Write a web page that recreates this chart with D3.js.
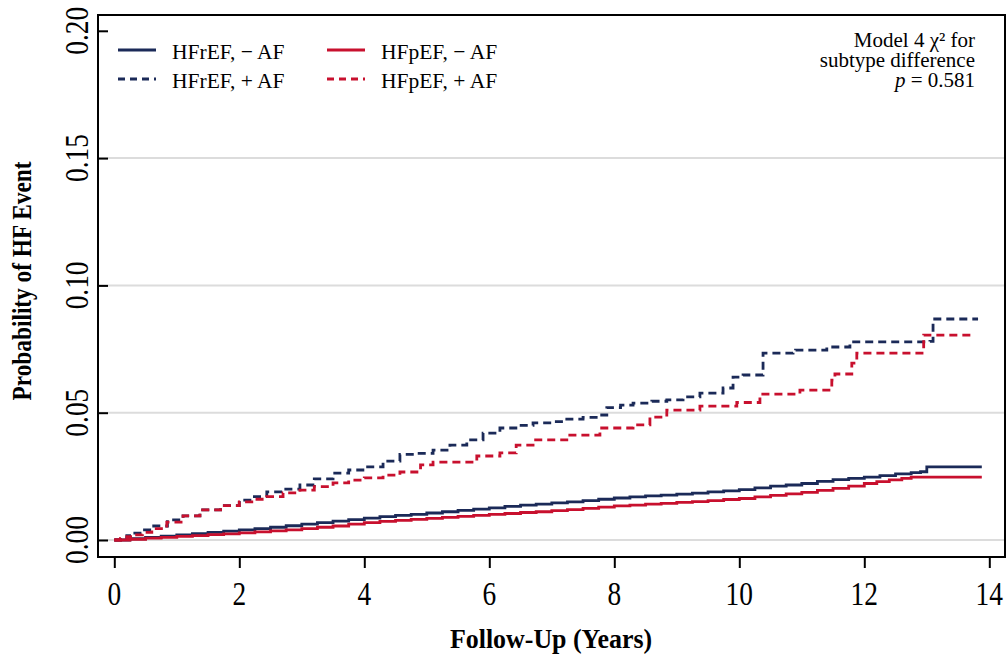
<!DOCTYPE html>
<html>
<head>
<meta charset="utf-8">
<script src="https://cdn.jsdelivr.net/npm/d3@7"></script>
<style>
  body { margin: 0; background: #fff; }
  svg text { font-family: "Liberation Serif", "Times New Roman", serif; fill: #000; }
</style>
</head>
<body>
<div id="chart"></div>
<script>
// Cumulative incidence curves (step functions), time in years
var rNoAfTime = [0, 0.25, 0.5, 0.75, 1, 1.25, 1.5, 1.75, 2, 2.25, 2.5, 2.75, 3, 3.25, 3.5, 3.75, 4, 4.25, 4.5, 4.75, 5, 5.25, 5.5, 5.75, 6, 6.25, 6.5, 6.75, 7, 7.25, 7.5, 7.75, 8, 8.25, 8.5, 8.75, 9, 9.25, 9.5, 9.75, 10, 10.25, 10.5, 10.75, 11, 11.25, 11.5, 11.75, 12, 12.25, 12.5, 12.75, 12.9, 13.0, 13.88]
var rNoAfProb = [0, 0.0005, 0.001, 0.0015, 0.002, 0.0025, 0.003, 0.0035, 0.004, 0.0045, 0.005, 0.0056, 0.0062, 0.0068, 0.0074, 0.008, 0.0086, 0.0092, 0.0097, 0.0101, 0.0106, 0.0111, 0.0116, 0.0121, 0.0126, 0.0132, 0.0137, 0.0141, 0.0146, 0.015, 0.0155, 0.016, 0.0165, 0.0169, 0.0173, 0.0176, 0.018, 0.0184, 0.0189, 0.0193, 0.0198, 0.0205, 0.0212, 0.0216, 0.0222, 0.023, 0.0237, 0.0242, 0.0247, 0.0253, 0.026, 0.0265, 0.0268, 0.0287, 0.0287]

var pNoAfTime = [0, 0.25, 0.5, 0.75, 1, 1.25, 1.5, 1.75, 2, 2.25, 2.5, 2.75, 3, 3.25, 3.5, 3.75, 4, 4.25, 4.5, 4.75, 5, 5.25, 5.5, 5.75, 6, 6.25, 6.5, 6.75, 7, 7.25, 7.5, 7.75, 8, 8.25, 8.5, 8.75, 9, 9.25, 9.5, 9.75, 10, 10.25, 10.5, 10.75, 11, 11.25, 11.5, 11.75, 12, 12.2, 12.4, 12.6, 12.75, 13.88]
var pNoAfProb = [0, 0.0003, 0.0007, 0.001, 0.0014, 0.0017, 0.0021, 0.0024, 0.0028, 0.0032, 0.0036, 0.004, 0.0045, 0.005, 0.0055, 0.0062, 0.0068, 0.0073, 0.0077, 0.0081, 0.0085, 0.0089, 0.0093, 0.0097, 0.0101, 0.0104, 0.0108, 0.0111, 0.0115, 0.0119, 0.0124, 0.0129, 0.0134, 0.0137, 0.0141, 0.0144, 0.0148, 0.0151, 0.0155, 0.0159, 0.0163, 0.0169, 0.0175, 0.0181, 0.0187, 0.0195, 0.0203, 0.0212, 0.0222, 0.0229, 0.0236, 0.0242, 0.0247, 0.0247]

var rAfTime = [0, 0.1, 0.2, 0.3, 0.45, 0.6, 0.85, 1.1, 1.37, 1.7, 2, 2.2, 2.44, 2.7, 2.97, 3.2, 3.5, 3.75, 4, 4.3, 4.57, 4.85, 5.1, 5.37, 5.64, 5.9, 6.17, 6.45, 6.7, 7.0, 7.24, 7.5, 7.77, 7.88, 8.1, 8.3, 8.6, 8.84, 9.1, 9.37, 9.74, 9.9, 10.06, 10.38, 10.86, 10.9, 11.4, 11.77, 13.05, 13.1, 13.82]
var rAfProb = [0, 0.0008, 0.0017, 0.0027, 0.004, 0.0055, 0.0079, 0.0095, 0.0118, 0.0135, 0.0157, 0.017, 0.0189, 0.02, 0.0216, 0.024, 0.0263, 0.0275, 0.0287, 0.031, 0.0336, 0.034, 0.0353, 0.0373, 0.0393, 0.042, 0.044, 0.045, 0.046, 0.0465, 0.0475, 0.0482, 0.0491, 0.052, 0.053, 0.0538, 0.0545, 0.055, 0.0562, 0.0577, 0.0597, 0.064, 0.0648, 0.0734, 0.0742, 0.0746, 0.0758, 0.0778, 0.078, 0.0868, 0.0868]

var pAfTime = [0, 0.1, 0.2, 0.3, 0.45, 0.6, 0.84, 1.1, 1.37, 1.7, 2, 2.2, 2.44, 2.7, 2.97, 3.2, 3.5, 3.75, 4, 4.3, 4.57, 4.9, 5.1, 5.8, 6.17, 6.43, 6.7, 7.24, 7.77, 8.3, 8.57, 8.84, 9.37, 9.96, 10.33, 10.97, 11.48, 11.53, 11.8, 11.88, 12.95, 13.77]
var pAfProb = [0, 0.0006, 0.0013, 0.002, 0.003, 0.0045, 0.007, 0.0095, 0.0118, 0.0135, 0.015, 0.016, 0.017, 0.0185, 0.0196, 0.021, 0.0224, 0.0235, 0.0244, 0.0255, 0.0267, 0.0295, 0.0306, 0.033, 0.0342, 0.0373, 0.0393, 0.0412, 0.044, 0.0452, 0.0483, 0.051, 0.0526, 0.054, 0.0573, 0.0589, 0.0628, 0.0652, 0.0695, 0.0734, 0.0805, 0.0805]

var xTicks = [0, 2, 4, 6, 8, 10, 12, 14]
var yTicks = [0, 0.05, 0.10, 0.15, 0.20]
var yGrid = [0, 0.05, 0.10, 0.15]

var navy = "#1b2a58"
var red = "#c8102e"

var series = [
  { name: "HFrEF, \u2212 AF", t: rNoAfTime, p: rNoAfProb, color: navy, dash: null },
  { name: "HFrEF, + AF", t: rAfTime, p: rAfProb, color: navy, dash: "8,5" },
  { name: "HFpEF, \u2212 AF", t: pNoAfTime, p: pNoAfProb, color: red, dash: null },
  { name: "HFpEF, + AF", t: pAfTime, p: pAfProb, color: red, dash: "8,5" }
]

var width = 1006
var height = 655
var box = { left: 98, top: 15, right: 1005, bottom: 557 }

var svg = d3.select("#chart")
  .append("svg")
  .attr("width", width)
  .attr("height", height)

var x = d3.scaleLinear().domain([0, 14]).range([114.3, 989.3])
var y = d3.scaleLinear().domain([0, 0.2]).range([540, 30.8])

// gridlines
svg.selectAll(".grid")
  .data(yGrid)
  .enter()
  .append("line")
  .attr("x1", box.left)
  .attr("x2", box.right)
  .attr("y1", function(d) { return y(d) })
  .attr("y2", function(d) { return y(d) })
  .attr("stroke", "#dcdcdc")
  .attr("stroke-width", 2)

// curves
var line = d3.line()
  .curve(d3.curveStepAfter)
  .x(function(d) { return x(d[0]) })
  .y(function(d) { return y(d[1]) })

series.forEach(function(s) {
  svg.append("path")
    .datum(d3.zip(s.t, s.p))
    .attr("d", line)
    .attr("fill", "none")
    .attr("stroke", s.color)
    .attr("stroke-width", 2.8)
    .attr("stroke-dasharray", s.dash)
})

// frame
svg.append("rect")
  .attr("x", box.left)
  .attr("y", box.top)
  .attr("width", box.right - box.left)
  .attr("height", box.bottom - box.top)
  .attr("fill", "none")
  .attr("stroke", "#000")
  .attr("stroke-width", 2)

// x axis: ticks point outward
var xAxis = svg.append("g")
  .attr("transform", "translate(0," + box.bottom + ")")
  .call(d3.axisBottom(x).tickValues(xTicks).tickSize(11).tickSizeOuter(0).tickFormat(d3.format("d")))
xAxis.select(".domain").remove()
xAxis.selectAll(".tick line").attr("stroke", "#000").attr("stroke-width", 2)
xAxis.selectAll(".tick text").remove()

svg.selectAll(".xlab")
  .data(xTicks)
  .enter()
  .append("text")
  .attr("transform", function(d) { return "translate(" + x(d) + ",605) scale(0.83,1)" })
  .attr("text-anchor", "middle")
  .style("font-size", "33px")
  .text(function(d) { return d })

// y axis: ticks point inward
var yAxis = svg.append("g")
  .attr("transform", "translate(" + box.left + ",0)")
  .call(d3.axisRight(y).tickValues(yTicks).tickSize(10).tickSizeOuter(0))
yAxis.select(".domain").remove()
yAxis.selectAll(".tick line").attr("stroke", "#000").attr("stroke-width", 2)
yAxis.selectAll(".tick text").remove()

svg.selectAll(".ylab")
  .data(yTicks)
  .enter()
  .append("text")
  .attr("transform", function(d) { return "translate(88," + y(d) + ") rotate(-90) scale(0.83,1)" })
  .attr("text-anchor", "middle")
  .style("font-size", "33px")
  .text(function(d) { return d3.format(".2f")(d) })

// axis titles
svg.append("text")
  .attr("transform", "translate(551,648) scale(0.96,1)")
  .attr("text-anchor", "middle")
  .style("font-size", "27px")
  .style("font-weight", "bold")
  .text("Follow-Up (Years)")

svg.append("text")
  .attr("transform", "translate(31,281) rotate(-90) scale(0.88,1)")
  .attr("text-anchor", "middle")
  .style("font-size", "26.5px")
  .style("font-weight", "bold")
  .text("Probability of HF Event")

// legend
var legendPos = [[118, 50], [118, 79], [327, 50], [327, 79]]
series.forEach(function(s, i) {
  var p = legendPos[i]
  svg.append("line")
    .attr("x1", p[0]).attr("x2", p[0] + 38)
    .attr("y1", p[1]).attr("y2", p[1])
    .attr("stroke", s.color)
    .attr("stroke-width", 2.8)
    .attr("stroke-dasharray", s.dash ? "7,5" : null)
  svg.append("text")
    .attr("x", p[0] + 54)
    .attr("y", p[1] + 9)
    .style("font-size", "21.5px")
    .text(s.name)
})

// model annotation
var noteLines = ["Model 4 \u03c7\u00b2 for", "subtype difference"]
svg.selectAll(".note")
  .data(noteLines)
  .enter()
  .append("text")
  .attr("x", 975)
  .attr("y", function(d, i) { return 47 + i * 20 })
  .attr("text-anchor", "end")
  .style("font-size", "21px")
  .text(function(d) { return d })

var pLine = svg.append("text")
  .attr("x", 975)
  .attr("y", 87)
  .attr("text-anchor", "end")
  .style("font-size", "21px")
pLine.append("tspan").style("font-style", "italic").text("p")
pLine.append("tspan").text(" = 0.581")
</script>
</body>
</html>
